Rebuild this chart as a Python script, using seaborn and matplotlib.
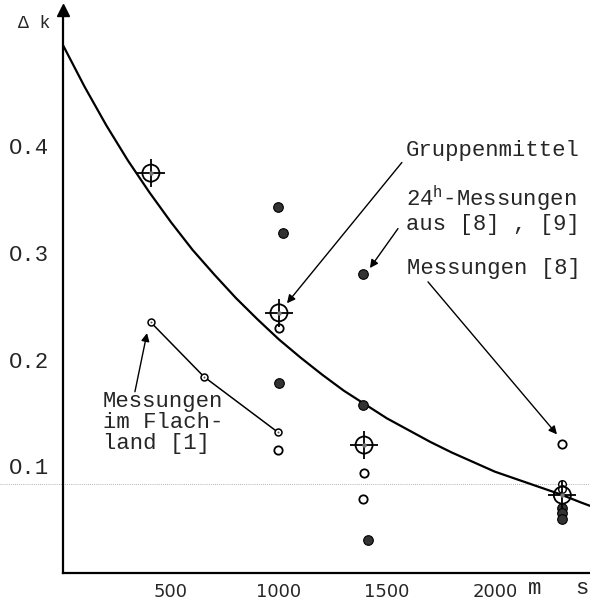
import matplotlib
matplotlib.use("Agg")
import matplotlib.pyplot as plt
import seaborn as sns
import pandas as pd

# fitted curve (m, dk)
curve_x = [0, 100, 200, 300, 400, 500, 600, 700, 800, 900, 1000, 1100, 1200,
           1300, 1400, 1500, 1600, 1700, 1800, 1900, 2000, 2100, 2200, 2300,
           2400, 2440]
curve_y = [0.495, 0.456, 0.420, 0.387, 0.357, 0.329, 0.303, 0.280, 0.258,
           0.238, 0.219, 0.202, 0.186, 0.171, 0.158, 0.145, 0.134, 0.123,
           0.113, 0.104, 0.095, 0.088, 0.081, 0.074, 0.066, 0.063]

# Gruppenmittel
group_x = [407, 1000, 1394, 2312]
group_y = [0.375, 0.244, 0.120, 0.073]

# 24h-Messungen aus [8], [9] (filled)
full_x = [995, 1019, 1389, 1000, 1389, 1412, 2310, 2310, 2310]
full_y = [0.343, 0.319, 0.280, 0.178, 0.158, 0.031, 0.061, 0.056, 0.051]

# Messungen [8] (open)
open_x = [1000, 995, 1392, 1390, 2310]
open_y = [0.230, 0.115, 0.094, 0.069, 0.121]

# dotted open circles at the right cluster
dot_x = [2310, 2310]
dot_y = [0.083, 0.079]

# Messungen im Flachland [1]
flach_x = [407, 653, 995]
flach_y = [0.235, 0.184, 0.132]

x_ticks = [500, 1000, 1500, 2000]
y_ticks = [0.1, 0.2, 0.3, 0.4, 0.5]
y_tick_labels = ["O.1", "O.2", "O.3", "O.4", ""]

sns.set_style("white")
plt.rcParams["font.family"] = ["Liberation Mono", "DejaVu Sans"]

fig = plt.figure(figsize=(5.9, 6.03), dpi=100)
ax = fig.add_axes([63 / 590, 30 / 603, 527 / 590, 563 / 603])

mono = ["Liberation Mono", "DejaVu Sans"]
fs = 16

# scan artifact: faint dotted line across the page
ax.axhline(0.0836, xmin=-63 / 527, xmax=1, color="#999999", lw=0.6,
           ls=(0, (1, 1.5)), clip_on=False, zorder=0)

df_curve = pd.DataFrame({"s": curve_x, "dk": curve_y})
sns.lineplot(data=df_curve, x="s", y="dk", ax=ax, color="black", lw=1.6,
             sort=True, zorder=2)

df_flach = pd.DataFrame({"s": flach_x, "dk": flach_y})
sns.lineplot(data=df_flach, x="s", y="dk", ax=ax, color="black", lw=1.1,
             marker="o", markersize=5, markerfacecolor="white",
             markeredgecolor="black", markeredgewidth=1.1, zorder=3)
sns.scatterplot(x=flach_x, y=flach_y, ax=ax, s=2, color="#555555",
                linewidth=0, zorder=4)

sns.scatterplot(x=full_x, y=full_y, ax=ax, s=48, color="#333333",
                edgecolor="black", linewidth=0.8, zorder=4)
sns.scatterplot(x=open_x, y=open_y, ax=ax, s=36, color="white",
                edgecolor="black", linewidth=1.3, zorder=4)
sns.scatterplot(x=dot_x, y=dot_y, ax=ax, s=30, color="white",
                edgecolor="black", linewidth=1.0, zorder=5)

# Gruppenmittel: open circle with crosshair
sns.scatterplot(x=group_x, y=group_y, ax=ax, s=150, color="none",
                edgecolor="black", linewidth=1.3, zorder=6)
sns.scatterplot(x=group_x, y=group_y, ax=ax, s=400, marker="+",
                color="black", linewidth=1.3, zorder=6)
sns.scatterplot(x=group_x, y=group_y, ax=ax, s=10, color="#777777",
                linewidth=0, zorder=6)

ax.set_xlim(0, 2440)
ax.set_ylim(0, 0.528)
ax.set_xlabel("")
ax.set_ylabel("")

for side in ["top", "right"]:
    ax.spines[side].set_visible(False)
for side in ["left", "bottom"]:
    ax.spines[side].set_color("black")
    ax.spines[side].set_linewidth(1.6)

ax.set_xticks(x_ticks)
ax.set_xticklabels([str(t) for t in x_ticks], fontfamily="DejaVu Sans",
                   fontsize=13)
ax.set_yticks(y_ticks)
ax.set_yticklabels(y_tick_labels, fontfamily=mono, fontsize=fs)
ax.tick_params(axis="both", direction="in", color="black", width=1.5)
ax.tick_params(axis="y", length=9, pad=10)
ax.tick_params(axis="x", length=7, pad=7)

# y-axis arrow
ax.plot([0], [0.528], marker="^", color="black", markersize=8,
        clip_on=False, zorder=7)
ax.text(-60, 0.515, "Δ k", ha="right", va="center", fontsize=13,
        family=mono)
ax.text(2185, -0.015, "m", ha="center", va="center", fontsize=fs,
        family=mono)
ax.text(2403, -0.015, "s", ha="center", va="center", fontsize=fs,
        family=mono)

arrow = dict(arrowstyle="-|>", color="black", lw=1.0, mutation_scale=12,
             shrinkA=0, shrinkB=0)

ax.text(1588, 0.396, "Gruppenmittel", ha="left", va="center", fontsize=fs,
        family=mono)
ax.annotate("", xy=(1037, 0.253), xytext=(1569, 0.385), arrowprops=arrow)

ax.text(1590, 0.341, "24$\\mathregular{^{h}}$-Messungen\naus [8] , [9]",
        ha="left", va="center", fontsize=fs, family=mono, linespacing=1.0)
ax.annotate("", xy=(1421, 0.286), xytext=(1551, 0.323), arrowprops=arrow)

ax.text(1593, 0.286, "Messungen [8]", ha="left", va="center", fontsize=fs,
        family=mono)
ax.annotate("", xy=(2287, 0.130), xytext=(1690, 0.273), arrowprops=arrow)

ax.text(185, 0.141, "Messungen\nim Flach-\nland [1]", ha="left",
        va="center", fontsize=fs, family=mono, linespacing=1.0)
ax.annotate("", xy=(389, 0.225), xytext=(333, 0.170), arrowprops=arrow)

fig.savefig("out.png", dpi=100)
